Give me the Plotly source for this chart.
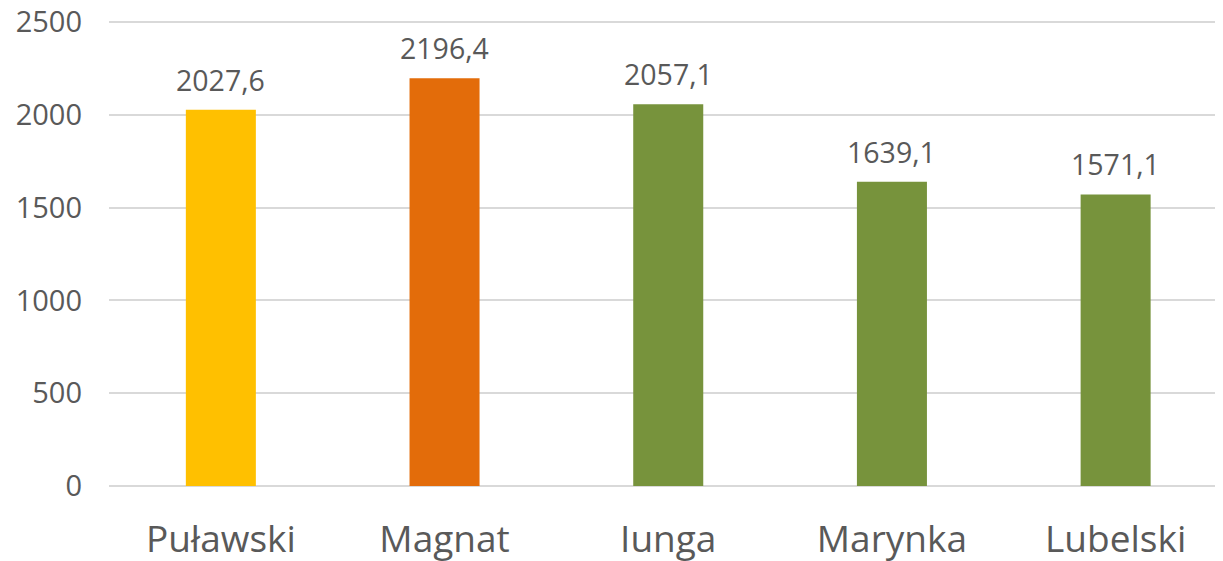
import plotly.graph_objects as go

categories = ["Puławski", "Magnat", "Iunga", "Marynka", "Lubelski"]
values = [2027.6, 2196.4, 2057.1, 1639.1, 1571.1]
bar_colors = ["#FFC000", "#E36C0A", "#77933C", "#77933C", "#77933C"]
y_ticks = [0, 500, 1000, 1500, 2000, 2500]

FONT = "Open Sans"
TXT = "#595959"

fig = go.Figure()
fig.add_trace(go.Bar(
    x=categories, y=values,
    marker=dict(color=bar_colors, line=dict(width=0)),
    width=0.313,
    hoverinfo="skip",
))

for c, v in zip(categories, values):
    fig.add_annotation(
        x=c, y=v, text=f"{v:.1f}".replace(".", ","),
        showarrow=False, yanchor="bottom", yshift=9,
        font=dict(family=FONT, size=28.5, color=TXT),
    )

fig.update_layout(
    width=1215, height=553,
    margin=dict(l=101, r=0, t=12, b=75),
    paper_bgcolor="white", plot_bgcolor="white",
    showlegend=False,
    separators=", ",
    font=dict(family=FONT, color=TXT),
    xaxis=dict(
        type="category", range=[-0.5, 4.48], automargin=False,
        showgrid=False, showline=False, zeroline=False,
        tickfont=dict(family=FONT, size=37, color=TXT),
        ticks="", ticklabelstandoff=28, ticklabeloverflow="allow",
    ),
    yaxis=dict(
        range=[0, 2510.8], tickvals=y_ticks, automargin=False,
        showgrid=True, gridcolor="#D9D9D9", gridwidth=1.5,
        zeroline=True, zerolinecolor="#D9D9D9", zerolinewidth=1.5,
        showline=False,
        tickfont=dict(family=FONT, size=29, color=TXT),
        ticks="", ticklabelstandoff=26, ticklabeloverflow="allow",
    ),
)

fig.write_html("out.html")
